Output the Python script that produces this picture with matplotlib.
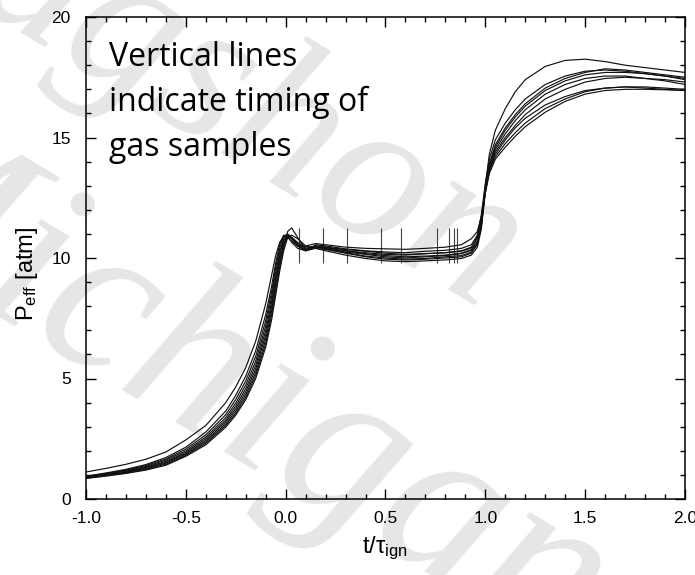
import matplotlib
matplotlib.use("Agg")
import matplotlib.pyplot as plt
from matplotlib.ticker import MultipleLocator, FormatStrFormatter

plt.rcParams['font.family'] = ['Liberation Sans', 'DejaVu Sans']
plt.rcParams['axes.unicode_minus'] = False
plt.rcParams['mathtext.default'] = 'regular'

# ---------------- data ----------------
t_grid = [-1.0, -0.9, -0.8, -0.7, -0.6, -0.5, -0.4, -0.3, -0.25, -0.2,
          -0.15, -0.1, -0.07, -0.05, -0.03, -0.01, 0.01, 0.03, 0.06, 0.1,
          0.15, 0.2, 0.3, 0.4, 0.5, 0.6, 0.7, 0.8, 0.88, 0.93,
          0.96, 0.98, 1.0, 1.02, 1.05, 1.1, 1.15, 1.2, 1.3, 1.4,
          1.5, 1.6, 1.7, 1.8, 1.9, 2.0]

p_run_a = [1.12, 1.27, 1.44, 1.65, 1.95, 2.45, 3.05, 4.00, 4.65, 5.45,
           6.55, 8.10, 9.30, 10.10, 10.65, 10.90, 10.85, 10.70, 10.50, 10.50,
           10.60, 10.55, 10.45, 10.40, 10.38, 10.36, 10.40, 10.45, 10.55, 10.80,
           11.10, 11.70, 12.70, 13.60, 14.30, 14.90, 15.40, 15.80, 16.35, 16.70,
           16.95, 17.05, 17.10, 17.10, 17.05, 17.00]
p_run_b = [0.87, 0.97, 1.08, 1.23, 1.44, 1.81, 2.31, 3.05, 3.56, 4.22,
           5.13, 6.45, 7.65, 8.65, 9.62, 10.45, 11.10, 11.25, 10.85, 10.35,
           10.45, 10.42, 10.30, 10.18, 10.10, 10.05, 10.08, 10.12, 10.20, 10.35,
           10.70, 11.40, 13.00, 14.30, 15.30, 16.20, 16.90, 17.40, 17.95, 18.20,
           18.25, 18.15, 18.00, 17.90, 17.80, 17.70]
p_run_c = [0.93, 1.06, 1.20, 1.39, 1.66, 2.07, 2.66, 3.50, 4.13, 4.90,
           5.92, 7.40, 8.62, 9.60, 10.40, 10.90, 11.00, 10.85, 10.55, 10.35,
           10.50, 10.45, 10.30, 10.22, 10.15, 10.12, 10.18, 10.22, 10.30, 10.45,
           10.80, 11.60, 12.90, 13.90, 14.70, 15.40, 15.95, 16.40, 17.05, 17.45,
           17.70, 17.85, 17.80, 17.70, 17.60, 17.50]
p_run_d = [0.90, 1.02, 1.15, 1.32, 1.56, 1.94, 2.50, 3.28, 3.86, 4.58,
           5.55, 6.98, 8.20, 9.20, 10.10, 10.72, 10.95, 10.80, 10.50, 10.30,
           10.45, 10.38, 10.25, 10.15, 10.05, 10.00, 10.05, 10.10, 10.18, 10.32,
           10.65, 11.40, 12.80, 13.80, 14.60, 15.30, 15.85, 16.30, 16.95, 17.35,
           17.60, 17.70, 17.70, 17.65, 17.55, 17.40]
p_run_e = [0.89, 1.00, 1.12, 1.29, 1.52, 1.89, 2.43, 3.20, 3.75, 4.45,
           5.40, 6.80, 8.00, 9.02, 9.95, 10.62, 10.90, 10.85, 10.60, 10.40,
           10.50, 10.45, 10.35, 10.28, 10.20, 10.15, 10.18, 10.22, 10.28, 10.42,
           10.90, 11.70, 12.90, 13.80, 14.50, 15.15, 15.70, 16.15, 16.80, 17.20,
           17.45, 17.55, 17.55, 17.45, 17.35, 17.20]
p_run_f = [0.88, 0.98, 1.10, 1.26, 1.48, 1.85, 2.37, 3.12, 3.65, 4.33,
           5.26, 6.62, 7.82, 8.85, 9.80, 10.52, 10.85, 10.85, 10.65, 10.45,
           10.48, 10.40, 10.22, 10.08, 10.00, 9.95, 9.98, 10.05, 10.10, 10.25,
           10.55, 11.30, 12.85, 13.70, 14.40, 15.00, 15.50, 15.95, 16.60, 17.00,
           17.30, 17.45, 17.50, 17.45, 17.40, 17.30]
p_run_g = [0.92, 1.04, 1.17, 1.35, 1.61, 2.00, 2.57, 3.38, 3.98, 4.73,
           5.72, 7.18, 8.40, 9.40, 10.25, 10.80, 10.95, 10.80, 10.50, 10.30,
           10.40, 10.35, 10.20, 10.05, 9.95, 9.92, 9.95, 10.00, 10.05, 10.20,
           10.60, 11.40, 12.80, 13.60, 14.20, 14.75, 15.20, 15.60, 16.20, 16.60,
           16.90, 17.05, 17.10, 17.05, 17.00, 16.95]
p_run_h = [0.85, 0.95, 1.06, 1.20, 1.40, 1.77, 2.25, 2.98, 3.48, 4.12,
           5.00, 6.30, 7.45, 8.45, 9.45, 10.30, 10.85, 10.95, 10.80, 10.50,
           10.40, 10.30, 10.12, 9.98, 9.88, 9.85, 9.88, 9.92, 9.98, 10.12,
           10.45, 11.20, 12.70, 13.50, 14.10, 14.60, 15.05, 15.45, 16.05, 16.50,
           16.80, 16.95, 17.00, 17.00, 16.98, 16.95]
p_run_i = [0.95, 1.08, 1.23, 1.43, 1.72, 2.15, 2.78, 3.65, 4.30, 5.10,
           6.15, 7.65, 8.85, 9.80, 10.55, 10.95, 10.90, 10.65, 10.40, 10.30,
           10.55, 10.50, 10.38, 10.30, 10.25, 10.22, 10.28, 10.32, 10.40, 10.55,
           10.95, 11.80, 13.10, 14.10, 14.90, 15.60, 16.15, 16.60, 17.20, 17.55,
           17.75, 17.80, 17.75, 17.65, 17.55, 17.45]

runs = [p_run_a, p_run_b, p_run_c, p_run_d, p_run_e, p_run_f, p_run_g, p_run_h, p_run_i]

sample_times = [0.067, 0.188, 0.309, 0.477, 0.579, 0.756, 0.820, 0.843, 0.858]
sample_ymin, sample_ymax = 9.8, 11.25

note_lines = ["Vertical lines", "indicate timing of", "gas samples"]
watermark_lines = ["agshon", "Michigan"]

# ---------------- figure ----------------
W, H = 695, 575
fig = plt.figure(figsize=(W / 100, H / 100), dpi=100)
ax = fig.add_axes([86 / W, 1 - 499 / H, 599 / W, 482 / H])
ax.patch.set_alpha(0)

def fx(px):
    return px / W

def fy(py):
    return 1 - py / H

# watermark (behind the axes)
fig.text(fx(250), fy(115), watermark_lines[0], fontsize=150, family='Liberation Serif',
         style='italic', color='#e6e6e6', rotation=-31, rotation_mode='anchor',
         ha='center', va='center', zorder=-5)
fig.text(fx(215), fy(380), watermark_lines[1], fontsize=165, family='Liberation Serif',
         style='italic', color='#e6e6e6', rotation=-31, rotation_mode='anchor',
         ha='center', va='center', zorder=-5)

for r in runs:
    ax.plot(t_grid, r, color='#111111', lw=0.85, zorder=3)

ax.vlines(sample_times, sample_ymin, sample_ymax, color='#444444', lw=0.8, zorder=2)

ax.set_xlim(-1.0, 2.0)
ax.set_ylim(0, 20)
ax.xaxis.set_major_locator(MultipleLocator(0.5))
ax.xaxis.set_minor_locator(MultipleLocator(0.1))
ax.yaxis.set_major_locator(MultipleLocator(5))
ax.yaxis.set_minor_locator(MultipleLocator(1))
ax.xaxis.set_major_formatter(FormatStrFormatter('%.1f'))
ax.yaxis.set_major_formatter(FormatStrFormatter('%d'))

for s in ax.spines.values():
    s.set_linewidth(1.1)
ax.tick_params(which='both', direction='in', top=True, right=True, width=1.0,
               labelsize=12.5, color='black')
ax.tick_params(which='major', length=7)
ax.tick_params(which='minor', length=3.8)
ax.tick_params(axis='x', which='major', pad=8.5)
ax.tick_params(axis='y', which='major', pad=11)

fig.text(fx(27.5), fy(274), 'P$_{eff}$ [atm]', rotation=90, ha='center', va='center',
         fontsize=17)
fig.text(fx(385), fy(553), 't/τ$_{ign}$', ha='center', va='baseline', fontsize=17)

baselines = [65.7, 110.7, 155.7]
for line, b in zip(note_lines, baselines):
    fig.text(fx(109), fy(b), line, family=['Open Sans', 'DejaVu Sans'], fontsize=23,
             ha='left', va='baseline', color='black')

fig.savefig('out.png', dpi=100)
